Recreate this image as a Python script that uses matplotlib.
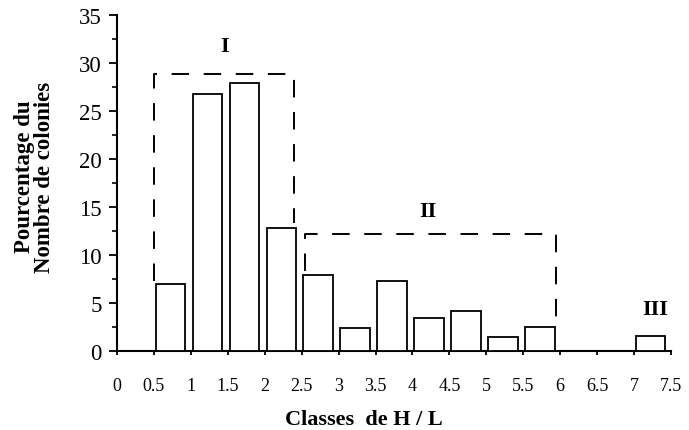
import matplotlib.pyplot as plt
from matplotlib.ticker import MultipleLocator, FormatStrFormatter

# classes de H / L (lower bound of each 0.5 class) and percentage of colonies
class_start = [0.5, 1.0, 1.5, 2.0, 2.5, 3.0, 3.5, 4.0, 4.5, 5.0, 5.5, 7.0]
percent = [7.0, 26.8, 27.9, 12.8, 7.9, 2.4, 7.3, 3.4, 4.2, 1.5, 2.5, 1.6]

# group boxes (dashed, open at the bottom)
box_I_x = [0.5, 0.5, 2.4, 2.4]
box_I_y = [7.3, 28.85, 28.85, 13.3]
box_II_x = [2.54, 2.54, 5.94, 5.94]
box_II_y = [8.3, 12.2, 12.2, 3.2]

serif = ['Liberation Serif', 'DejaVu Serif']
plt.rcParams['font.family'] = serif

fig = plt.figure(figsize=(6.89, 4.31), dpi=100)
ax = fig.add_axes([0.1698, 0.1833, 0.804, 0.7796])

ax.bar([x + 0.025 for x in class_start], percent, width=0.4, align='edge',
       facecolor='white', edgecolor='black', linewidth=1.3, zorder=3)

dash = (0, (9, 7.5))
ax.plot(box_I_x, box_I_y, color='black', lw=1.4, linestyle=dash, zorder=2)
ax.plot(box_II_x, box_II_y, color='black', lw=1.4, linestyle=dash, zorder=2)

ax.text(1.46, 31.8, 'I', fontsize=16, fontweight='bold', ha='center', va='center')
ax.text(4.21, 14.6, 'II', fontsize=16, fontweight='bold', ha='center', va='center')
ax.text(7.28, 4.4, 'III', fontsize=16, fontweight='bold', ha='center', va='center')

ax.set_xlim(0, 7.5)
ax.set_ylim(0, 35)
ax.xaxis.set_major_locator(MultipleLocator(0.5))
ax.xaxis.set_major_formatter(FormatStrFormatter('%g'))
ax.yaxis.set_major_locator(MultipleLocator(5))
ax.yaxis.set_minor_locator(MultipleLocator(2.5))

for side in ['top', 'right']:
    ax.spines[side].set_visible(False)
for side in ['left', 'bottom']:
    ax.spines[side].set_linewidth(1.5)

ax.tick_params(axis='x', direction='out', length=3, width=1.3, pad=16, labelsize=13)
ax.tick_params(axis='y', which='major', direction='out', length=6, width=1.3, pad=5, labelsize=16.5)
ax.tick_params(axis='y', which='minor', direction='out', length=3.5, width=1.2)

ax.set_xlabel('Classes  de H / L', fontsize=16, fontweight='bold')
ax.xaxis.set_label_coords(0.445, -0.172)
ax.set_ylabel('Pourcentage du\nNombre de colonies', fontsize=16.5, fontweight='bold',
              linespacing=0.95)
ax.yaxis.set_label_coords(-0.112, 0.521)

fig.savefig('out.png', dpi=100)
